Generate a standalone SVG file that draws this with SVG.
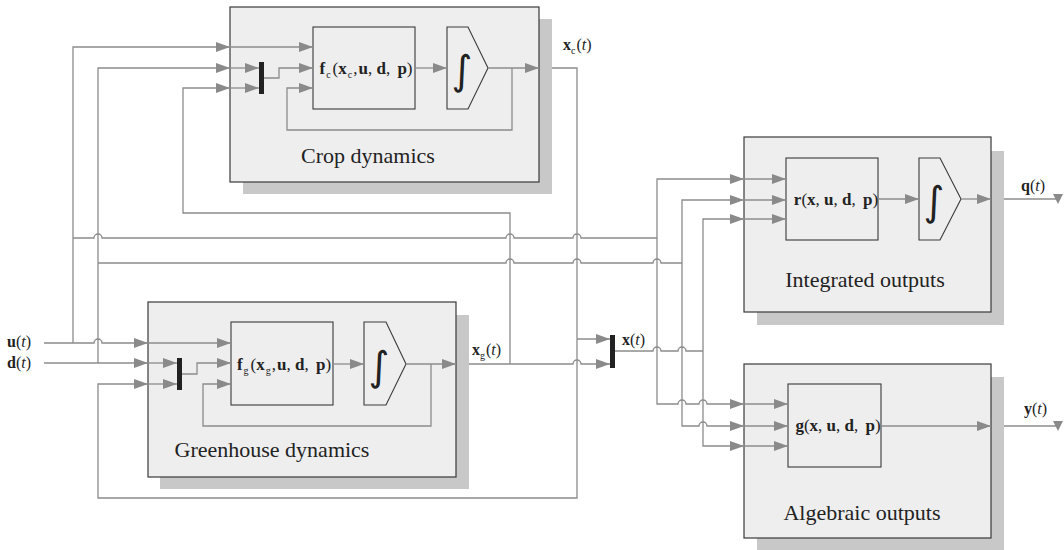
<svg xmlns="http://www.w3.org/2000/svg" width="1064" height="550" viewBox="0 0 1064 550">
<defs>
<marker id="ar" markerUnits="userSpaceOnUse" markerWidth="14" markerHeight="10" refX="14" refY="5" orient="auto" viewBox="0 0 14 10">
<path d="M0,0 L14,5 L0,10 z" fill="#8a8a8a"/>
</marker>
</defs>
<style>
.shadow{fill:#c8c8c8;stroke:none}
.block{fill:#eeeeee;stroke:#3a3a3a;stroke-width:1.2}
.inner{fill:#eeeeee;stroke:#3a3a3a;stroke-width:1.1}
.mux{fill:#222222}
.ln{fill:none;stroke:#8c8c8c;stroke-width:1.3}
.arr{marker-end:url(#ar)}
.t{font-family:"Liberation Serif",serif;fill:#222}
.lbl{font-size:22px;text-anchor:middle}
.fn{font-size:17px;text-anchor:middle}
.b{font-weight:bold}
.i{font-style:italic}
.sub{font-size:10px}
.int{font-family:"DejaVu Sans",sans-serif;font-size:40px;text-anchor:middle;fill:#222}
.tri{fill:#8a8a8a}
.sm{font-size:16px}
</style>

<g id="crop">
<rect class="shadow" x="243" y="19" width="309" height="175"/>
<rect class="block" x="230" y="7" width="309" height="175"/>
<rect class="inner" x="313" y="27" width="102" height="82"/>
<polygon class="inner" points="447,27 468,27 488,68 468,109 447,109"/>
<text class="int" x="462" y="84">∫</text>
<rect class="mux" x="259" y="62" width="5" height="32"/>
<text class="t fn" x="366" y="74"><tspan class="b">f</tspan><tspan class="sub" dx="1" dy="4">c</tspan><tspan dx="2" dy="-4">(</tspan><tspan class="b">x</tspan><tspan class="sub" dx="1" dy="4">c</tspan><tspan dx="1" dy="-4">,</tspan><tspan class="b" dx="1">u</tspan>, <tspan class="b">d</tspan>, <tspan class="b" dx="3">p</tspan>)</text>
<text class="t lbl" x="368" y="163">Crop dynamics</text>
</g>

<g id="greenhouse">
<rect class="shadow" x="160" y="315" width="309" height="174"/>
<rect class="block" x="148" y="302" width="308" height="175"/>
<rect class="inner" x="231" y="322" width="102" height="83"/>
<polygon class="inner" points="364,322 386,322 406,364 386,405 364,405"/>
<text class="int" x="379" y="380">∫</text>
<rect class="mux" x="177" y="358" width="5" height="32"/>
<text class="t fn" x="284" y="370"><tspan class="b">f</tspan><tspan class="sub" dx="1" dy="4">g</tspan><tspan dx="2" dy="-4">(</tspan><tspan class="b">x</tspan><tspan class="sub" dx="1" dy="4">g</tspan><tspan dx="1" dy="-4">,</tspan><tspan class="b" dx="1">u</tspan>, <tspan class="b">d</tspan>, <tspan class="b" dx="3">p</tspan>)</text>
<text class="t lbl" x="272" y="457">Greenhouse dynamics</text>
</g>

<g id="integrated">
<rect class="shadow" x="757" y="151" width="247" height="174"/>
<rect class="block" x="744" y="137" width="247" height="175"/>
<rect class="inner" x="786" y="158" width="92" height="82"/>
<polygon class="inner" points="919,158 940,158 961,199 940,240 919,240"/>
<text class="int" x="934" y="215">∫</text>
<text class="t fn" x="836" y="205"><tspan class="b">r</tspan>(<tspan class="b">x</tspan>, <tspan class="b">u</tspan>, <tspan class="b">d</tspan>, <tspan class="b" dx="3">p</tspan>)</text>
<text class="t lbl" x="865" y="287">Integrated outputs</text>
</g>

<g id="algebraic">
<rect class="shadow" x="757" y="377" width="247" height="173"/>
<rect class="block" x="744" y="364" width="247" height="174"/>
<rect class="inner" x="788" y="384" width="93" height="83"/>
<text class="t fn" x="838" y="431"><tspan class="b">g</tspan>(<tspan class="b">x</tspan>, <tspan class="b">u</tspan>, <tspan class="b">d</tspan>, <tspan class="b" dx="3">p</tspan>)</text>
<text class="t lbl" x="862" y="520">Algebraic outputs</text>
</g>

<g id="mux-x">
<rect class="mux" x="610" y="335" width="5" height="33"/>
</g>

<g id="connectors">
<path class="ln arr" d="M230,47 H313"/>
<path class="ln arr" d="M230,68 H259"/>
<path class="ln arr" d="M230,88 H259"/>
<path class="ln arr" d="M264,78 H279 V68 H313"/>
<path class="ln arr" d="M415,68 H447"/>
<path class="ln arr" d="M488,68 H539"/>
<path class="ln arr" d="M512,68 V130 H287 V88 H313"/>
<path class="ln arr" d="M148,343 H231"/>
<path class="ln arr" d="M148,363 H177"/>
<path class="ln arr" d="M148,384 H177"/>
<path class="ln arr" d="M182,374 H197 V363 H231"/>
<path class="ln arr" d="M333,364 H364"/>
<path class="ln arr" d="M406,364 H456"/>
<path class="ln arr" d="M431,364 V426 H203 V384 H231"/>
<path class="ln arr" d="M744,179 H786"/>
<path class="ln arr" d="M744,200 H786"/>
<path class="ln arr" d="M744,219 H786"/>
<path class="ln arr" d="M878,199 H919"/>
<path class="ln arr" d="M961,199 H991"/>
<path class="ln arr" d="M744,404 H788"/>
<path class="ln arr" d="M744,426 H788"/>
<path class="ln arr" d="M744,446 H788"/>
<path class="ln arr" d="M881,426 H991"/>
<path class="ln arr" d="M44,343 H94 a4,4 0 0 1 8,0 H148"/>
<path class="ln arr" d="M73,343 V47 H230"/>
<path class="ln" d="M73,238 H94 a4,4 0 0 1 8,0 H506 a4,4 0 0 1 8,0 H573 a4,4 0 0 1 8,0 H657"/>
<path class="ln arr" d="M657,238 V179 H744"/>
<path class="ln arr" d="M657,238 V404 H678 a4,4 0 0 1 8,0 H699 a4,4 0 0 1 8,0 H744"/>
<path class="ln arr" d="M44,363 H148"/>
<path class="ln arr" d="M98,363 V68 H230"/>
<path class="ln" d="M98,263 H506 a4,4 0 0 1 8,0 H573 a4,4 0 0 1 8,0 H653 a4,4 0 0 1 8,0 H682"/>
<path class="ln arr" d="M682,263 V200 H744"/>
<path class="ln arr" d="M682,263 V426 H699 a4,4 0 0 1 8,0 H744"/>
<path class="ln arr" d="M469,364 H573 a4,4 0 0 1 8,0 H610"/>
<path class="ln arr" d="M510,364 V213 H183 V88 H230"/>
<path class="ln arr" d="M552,68 H577 V498 H98 V384 H148"/>
<path class="ln arr" d="M577,339 H610"/>
<path class="ln" d="M615,351 H653 a4,4 0 0 1 8,0 H678 a4,4 0 0 1 8,0 H703"/>
<path class="ln arr" d="M703,351 V219 H744"/>
<path class="ln arr" d="M703,351 V446 H744"/>
<path class="ln" d="M1004,199 H1058"/>
<polygon class="tri" points="1053,194 1063,194 1058,204"/>
<path class="ln" d="M1004,426 H1058"/>
<polygon class="tri" points="1053,421 1063,421 1058,431"/>
</g>

<g id="labels">
<text class="t sm" x="7" y="347"><tspan class="b">u</tspan>(<tspan class="i">t</tspan>)</text>
<text class="t sm" x="7" y="368"><tspan class="b">d</tspan>(<tspan class="i">t</tspan>)</text>
<text class="t sm" x="563" y="50"><tspan class="b">x</tspan><tspan class="sub" dy="4">c</tspan><tspan dx="1" dy="-4">(</tspan><tspan class="i">t</tspan>)</text>
<text class="t sm" x="472" y="355"><tspan class="b">x</tspan><tspan class="sub" dy="4">g</tspan><tspan dx="1" dy="-4">(</tspan><tspan class="i">t</tspan>)</text>
<text class="t sm" x="622" y="345"><tspan class="b">x</tspan>(<tspan class="i">t</tspan>)</text>
<text class="t sm" x="1021" y="191"><tspan class="b">q</tspan>(<tspan class="i">t</tspan>)</text>
<text class="t sm" x="1024" y="414"><tspan class="b">y</tspan>(<tspan class="i">t</tspan>)</text>
</g>
</svg>
